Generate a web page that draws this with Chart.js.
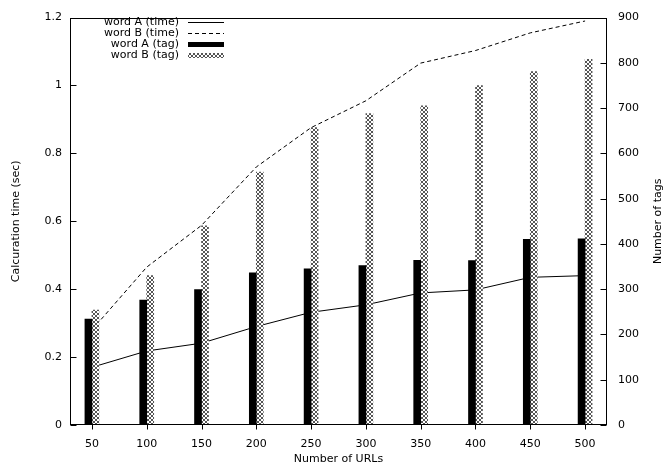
<!DOCTYPE html>
<html>
<head>
<meta charset="utf-8">
<script src="https://cdn.jsdelivr.net/npm/chart.js@4"></script>
<style>
  html, body { margin: 0; padding: 0; background: #fff; }
</style>
</head>
<body>
<canvas id="chart" width="667" height="468"></canvas>
<script>
// data
const urls = [50, 100, 150, 200, 250, 300, 350, 400, 450, 500];
const timeA = [0.17, 0.218, 0.241, 0.29, 0.332, 0.354, 0.389, 0.398, 0.435, 0.44];
const timeB = [0.28, 0.465, 0.588, 0.76, 0.876, 0.955, 1.066, 1.103, 1.155, 1.19];
const tagA = [234, 276, 299, 336, 345, 352, 364, 363, 410, 411];
const tagB = [254, 330, 440, 559, 657, 688, 705, 750, 781, 808];
const seriesNames = ["word A (time)", "word B (time)", "word A (tag)", "word B (tag)"];
const xTicks = [50, 100, 150, 200, 250, 300, 350, 400, 450, 500];
const leftTicks = [0, 0.2, 0.4, 0.6, 0.8, 1, 1.2];
const rightTicks = [0, 100, 200, 300, 400, 500, 600, 700, 800, 900];
const xTitle = "Number of URLs";
const leftTitle = "Calcuration time (sec)";
const rightTitle = "Number of tags";

const FONT = "'DejaVu Sans', sans-serif";

// crosshatch fill like gnuplot's pattern
function makePattern() {
  const c = document.createElement("canvas");
  c.width = 4; c.height = 4;
  const g = c.getContext("2d");
  g.fillStyle = "#fff";
  g.fillRect(0, 0, 4, 4);
  g.fillStyle = "#555";
  for (let i = 0; i < 4; i++) {
    g.fillRect(i, i, 1, 1);
    g.fillRect(3 - i, i, 1, 1);
  }
  return document.getElementById("chart").getContext("2d").createPattern(c, "repeat");
}
const hatch = makePattern();

const framePlugin = {
  id: "frame",
  afterDatasetsDraw(chart) {
    const ctx = chart.ctx;
    const a = chart.chartArea;
    const xs = chart.scales.x, yL = chart.scales.y, yR = chart.scales.y1;
    ctx.save();
    ctx.strokeStyle = "#000";
    ctx.lineWidth = 1;
    const l = Math.round(a.left) + 0.5, r = Math.round(a.right) - 0.5;
    const t = Math.round(a.top) + 0.5, b = Math.round(a.bottom) - 0.5;
    ctx.strokeRect(l, t, r - l, b - t);
    ctx.beginPath();
    leftTicks.forEach(v => {
      const y = Math.round(yL.getPixelForValue(v)) + 0.5;
      ctx.moveTo(l, y); ctx.lineTo(l + 6, y);
    });
    rightTicks.forEach(v => {
      const y = Math.round(yR.getPixelForValue(v)) + 0.5;
      ctx.moveTo(r, y); ctx.lineTo(r - 6, y);
    });
    xTicks.forEach(v => {
      const x = Math.round(xs.getPixelForValue(v)) + 0.5;
      ctx.moveTo(x, b); ctx.lineTo(x, b + 5);
    });
    ctx.stroke();

    // key, text right aligned with sample on the right
    ctx.font = "11px " + FONT;
    ctx.fillStyle = "#000";
    ctx.textAlign = "right";
    ctx.textBaseline = "middle";
    chart.data.datasets.forEach((ds, i) => {
      const y = 22 + i * 11;
      ctx.fillText(ds.label, 179, y);
      if (ds.type === "line") {
        ctx.beginPath();
        ctx.setLineDash(ds.borderDash || []);
        ctx.moveTo(188, Math.round(y) + 0.5);
        ctx.lineTo(224, Math.round(y) + 0.5);
        ctx.stroke();
        ctx.setLineDash([]);
      } else {
        ctx.fillStyle = ds.backgroundColor;
        ctx.fillRect(188, Math.round(y) - 2, 36, 5);
        ctx.fillStyle = "#000";
      }
    });

    // right axis title, reads bottom to top like the left one
    ctx.save();
    ctx.translate(658, (a.top + a.bottom) / 2);
    ctx.rotate(-Math.PI / 2);
    ctx.textAlign = "center";
    ctx.fillText(rightTitle, 0, 0);
    ctx.restore();
    ctx.restore();
  }
};

const data = {
  datasets: [
    {
      type: "line",
      label: seriesNames[0],
      data: urls.map((u, i) => ({ x: u, y: timeA[i] })),
      yAxisID: "y",
      borderColor: "#000",
      borderWidth: 1,
      pointRadius: 0,
      tension: 0,
      order: 1
    },
    {
      type: "line",
      label: seriesNames[1],
      data: urls.map((u, i) => ({ x: u, y: timeB[i] })),
      yAxisID: "y",
      borderColor: "#000",
      borderWidth: 1,
      borderDash: [4, 3],
      pointRadius: 0,
      tension: 0,
      order: 1
    },
    {
      type: "bar",
      label: seriesNames[2],
      data: urls.map((u, i) => ({ x: u, y: tagA[i] })),
      yAxisID: "y1",
      backgroundColor: "#000",
      borderWidth: 0,
      barThickness: 7,
      order: 0
    },
    {
      type: "bar",
      label: seriesNames[3],
      data: urls.map((u, i) => ({ x: u, y: tagB[i] })),
      yAxisID: "y1",
      backgroundColor: hatch,
      borderWidth: 0,
      barThickness: 7,
      order: 0
    }
  ]
};

const config = {
  type: "bar",
  data: data,
  options: {
    responsive: false,
    animation: false,
    layout: { padding: { top: 17, left: 0, right: 0, bottom: 0 } },
    plugins: { legend: { display: false }, tooltip: { enabled: false } },
    scales: {
      x: {
        type: "linear",
        offset: false,
        min: 30,
        max: 520,
        afterBuildTicks: s => { s.ticks = xTicks.map(v => ({ value: v })); },
        afterFit: s => { s.height = 43; },
        grid: { display: false, drawTicks: false },
        border: { display: false },
        ticks: { color: "#000", font: { family: FONT, size: 11 }, padding: 13, maxRotation: 0 },
        title: { display: true, text: xTitle, color: "#000", font: { family: FONT, size: 11 }, padding: { top: 0, bottom: 2 } }
      },
      y: {
        position: "left",
        min: 0,
        max: 1.2,
        afterBuildTicks: s => { s.ticks = leftTicks.map(v => ({ value: v })); },
        afterFit: s => { s.width = 70; },
        grid: { display: false, drawTicks: false },
        border: { display: false },
        ticks: { color: "#000", font: { family: FONT, size: 11 }, padding: 8, callback: v => String(v) },
        title: { display: true, text: leftTitle, color: "#000", font: { family: FONT, size: 11 }, padding: { top: 10, bottom: 0 } }
      },
      y1: {
        position: "right",
        min: 0,
        max: 900,
        afterBuildTicks: s => { s.ticks = rightTicks.map(v => ({ value: v })); },
        afterFit: s => { s.width = 60; },
        grid: { display: false, drawTicks: false },
        border: { display: false },
        ticks: { color: "#000", font: { family: FONT, size: 11 }, padding: 11, callback: v => String(v) }
      }
    }
  },
  plugins: [framePlugin]
};

const chart = new Chart(document.getElementById("chart"), config);
</script>
</body>
</html>
